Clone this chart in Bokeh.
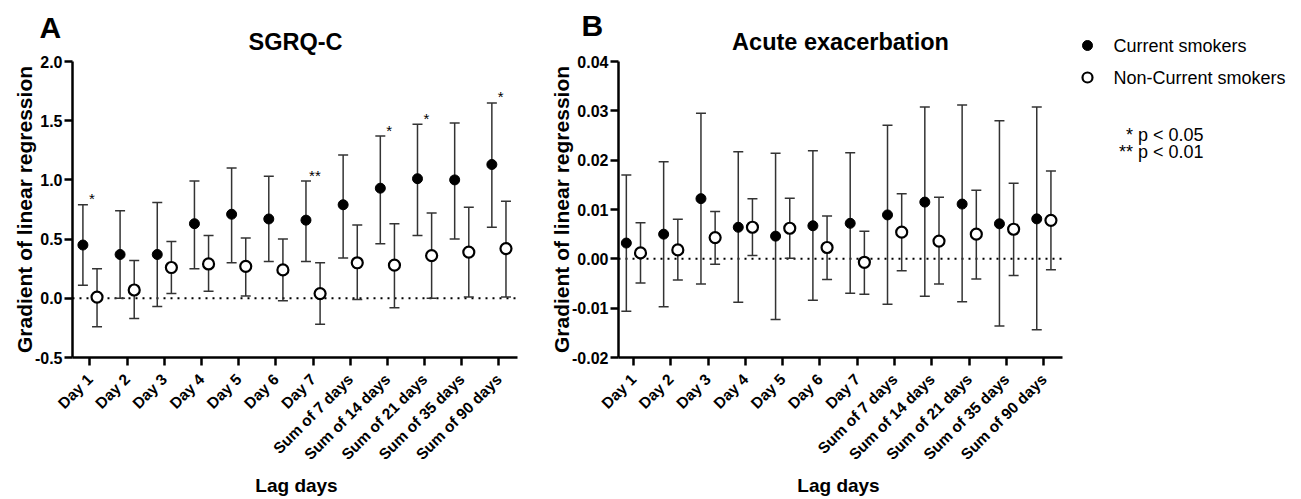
import numpy as np
from bokeh.plotting import figure
from bokeh.models import (ColumnDataSource, Whisker, TeeHead, Span, Range1d,
                          FixedTicker, PrintfTickFormatter)
from bokeh.layouts import row, column
from bokeh.core.properties import value
from bokeh.embed import file_html
from bokeh.resources import INLINE

FONT = "Liberation Sans"

categories = ["Day 1", "Day 2", "Day 3", "Day 4", "Day 5", "Day 6", "Day 7",
              "Sum of 7 days", "Sum of 14 days", "Sum of 21 days",
              "Sum of 35 days", "Sum of 90 days"]

# Panel A: SGRQ-C
a_cur = [0.45, 0.37, 0.37, 0.63, 0.71, 0.67, 0.66, 0.79, 0.93, 1.01, 1.00, 1.13]
a_cur_hi = [0.79, 0.74, 0.81, 0.99, 1.10, 1.03, 0.99, 1.21, 1.37, 1.47, 1.48, 1.65]
a_cur_lo = [0.11, 0.00, -0.07, 0.25, 0.30, 0.31, 0.31, 0.34, 0.46, 0.53, 0.50, 0.60]
a_non = [0.01, 0.07, 0.26, 0.29, 0.27, 0.24, 0.04, 0.30, 0.28, 0.36, 0.39, 0.42]
a_non_hi = [0.25, 0.32, 0.48, 0.53, 0.51, 0.50, 0.30, 0.62, 0.63, 0.72, 0.77, 0.82]
a_non_lo = [-0.24, -0.17, 0.04, 0.06, 0.02, -0.02, -0.22, -0.01, -0.08, 0.00, 0.01, 0.01]
a_stars = ["*", "", "", "", "", "", "**", "", "*", "*", "", "*"]
a_ticks = [-0.5, 0.0, 0.5, 1.0, 1.5, 2.0]

# Panel B: Acute exacerbation
b_cur = [0.0032, 0.0050, 0.0122, 0.0064, 0.0046, 0.0067, 0.0072, 0.0089, 0.0115, 0.0111, 0.0071, 0.0081]
b_cur_hi = [0.0170, 0.0197, 0.0295, 0.0217, 0.0214, 0.0219, 0.0215, 0.0271, 0.0308, 0.0312, 0.0280, 0.0308]
b_cur_lo = [-0.0106, -0.0097, -0.0051, -0.0088, -0.0123, -0.0084, -0.0070, -0.0092, -0.0076, -0.0087, -0.0136, -0.0144]
b_non = [0.0012, 0.0018, 0.0043, 0.0064, 0.0062, 0.0023, -0.0007, 0.0054, 0.0036, 0.0050, 0.0060, 0.0078]
b_non_hi = [0.0073, 0.0080, 0.0096, 0.0122, 0.0123, 0.0087, 0.0056, 0.0132, 0.0125, 0.0139, 0.0153, 0.0178]
b_non_lo = [-0.0049, -0.0043, -0.0011, 0.0007, 0.0001, -0.0042, -0.0072, -0.0024, -0.0051, -0.0041, -0.0034, -0.0022]
b_stars = [""] * 12
b_ticks = [-0.02, -0.01, 0.0, 0.01, 0.02, 0.03, 0.04]

panel_letters = ["A", "B"]
panel_titles = ["SGRQ-C", "Acute exacerbation"]
x_title = "Lag days"
y_title = "Gradient of linear regression"
series_names = ["Current smokers", "Non-Current smokers"]
notes = ["* p < 0.05", "** p < 0.01"]

DODGE = 0.19
ERR = "#333333"
HDR_H = 55
FOOT_H = 24
FIG_H = 498 - HDR_H - FOOT_H


def panel(cur, cur_hi, cur_lo, non, non_hi, non_lo, stars, ticks, fmt,
          xstart, width, mb_left, mb_right):
    p = figure(width=width, height=FIG_H,
               x_range=Range1d(xstart, 11.5),
               y_range=Range1d(ticks[0], ticks[-1]),
               output_backend="svg", toolbar_location=None,
               min_border_left=mb_left, min_border_right=mb_right,
               min_border_top=61 - HDR_H, min_border_bottom=FIG_H - (357 - HDR_H))
    p.outline_line_color = None
    p.grid.visible = False
    p.background_fill_color = "white"

    idx = np.arange(len(categories))
    s_cur = ColumnDataSource(dict(x=idx - DODGE, y=cur, hi=cur_hi, lo=cur_lo))
    s_non = ColumnDataSource(dict(x=idx + DODGE, y=non, hi=non_hi, lo=non_lo))

    p.add_layout(Span(location=0, dimension="width", line_color="black",
                      line_width=2, line_dash="2 5", level="underlay"))

    for s in (s_cur, s_non):
        p.add_layout(Whisker(source=s, base="x", upper="hi", lower="lo",
                             line_color=ERR, line_width=1.5,
                             upper_head=TeeHead(size=10, line_color=ERR, line_width=1.5),
                             lower_head=TeeHead(size=10, line_color=ERR, line_width=1.5)))

    p.scatter("x", "y", source=s_cur, size=10, marker="circle",
              fill_color="black", line_color="black")
    p.scatter("x", "y", source=s_non, size=11, marker="circle",
              fill_color="white", line_color="black", line_width=2.2)

    s_star = ColumnDataSource(dict(x=idx + 0.05, y=cur_hi, t=stars))
    p.text("x", "y", text="t", source=s_star, text_font=value(FONT),
           text_font_size="15px", text_align="center",
           text_baseline="middle", y_offset=-6, text_color="black")

    ya = p.yaxis[0]
    ya.ticker = FixedTicker(ticks=ticks)
    ya.formatter = PrintfTickFormatter(format=fmt)
    ya.axis_label = y_title
    xa = p.xaxis[0]
    xa.ticker = FixedTicker(ticks=list(idx))
    xa.major_label_overrides = {int(i): c for i, c in zip(idx, categories)}
    xa.major_label_orientation = np.pi / 4

    for ax in (xa, ya):
        ax.axis_line_width = 2.5
        ax.axis_line_color = "black"
        ax.major_tick_line_width = 2.5
        ax.major_tick_line_color = "black"
        ax.major_tick_out = 8
        ax.major_tick_in = 0
        ax.minor_tick_line_color = None
        ax.major_label_text_font = FONT
        ax.major_label_text_font_style = "bold"
        ax.major_label_text_color = "black"
        ax.axis_label_text_font = FONT
        ax.axis_label_text_font_style = "bold"
        ax.axis_label_text_color = "black"
    ya.major_label_text_font_size = "16px"
    ya.major_label_standoff = 2
    ya.axis_label_text_font_size = "21px"
    ya.axis_label_standoff = -4
    xa.major_label_text_font_size = "15.5px"
    xa.major_label_standoff = 11
    return p


pA = panel(a_cur, a_cur_hi, a_cur_lo, a_non, a_non_hi, a_non_lo, a_stars,
           a_ticks, "%.1f", -0.47, 540, 72, 23)
pB = panel(b_cur, b_cur_hi, b_cur_lo, b_non, b_non_hi, b_non_lo, b_stars,
           b_ticks, "%.2f", -0.40, 531, 78, 9)


def blank(width, height, x0, x1, y0, y1):
    f = figure(width=width, height=height, x_range=Range1d(x0, x1),
               y_range=Range1d(y1, y0), x_axis_type=None, y_axis_type=None,
               output_backend="svg", toolbar_location=None,
               min_border_left=0, min_border_right=0, min_border_top=0,
               min_border_bottom=0)
    f.outline_line_color = None
    f.grid.visible = False
    return f


# header with panel letters and titles (pixel coordinates of the page)
hdr = blank(1071, HDR_H, 0, 1071, 0, HDR_H)
hdr.text(x=[39, 581], y=[27, 25], text=panel_letters, text_font=value(FONT),
         text_font_style="bold", text_font_size="30px", text_align="left",
         text_baseline="middle", text_color="black")
hdr.text(x=[295, 840], y=[41, 41], text=panel_titles,
         text_font=value(FONT), text_font_style="bold", text_font_size="23.5px",
         text_align="center", text_baseline="middle", text_color="black")

# footer with the x-axis titles
foot = blank(1071, FOOT_H, 0, 1071, 498 - FOOT_H, 498)
foot.text(x=[296, 838], y=[485, 485], text=[x_title, x_title],
          text_font=value(FONT), text_font_style="bold", text_font_size="19px",
          text_align="center", text_baseline="middle", text_color="black")

# legend area
leg = blank(229, 498, 1071, 1300, 0, 498)
leg.scatter(x=[1087], y=[45], size=10, marker="circle", fill_color="black",
            line_color="black")
leg.scatter(x=[1087], y=[77], size=10, marker="circle", fill_color="white",
            line_color="black", line_width=2.2)
leg.text(x=[1113, 1113], y=[45, 77], text=series_names, text_font=value(FONT),
         text_font_size="18px", text_align="left", text_baseline="middle",
         text_color="black")
leg.text(x=[1203, 1203], y=[134, 151], text=notes, text_font=value(FONT),
         text_font_size="18px", text_align="right", text_baseline="middle",
         text_color="black")

layout = row(column(hdr, row(pA, pB), foot), leg)

open("out.html", "w").write(file_html(layout, INLINE))
